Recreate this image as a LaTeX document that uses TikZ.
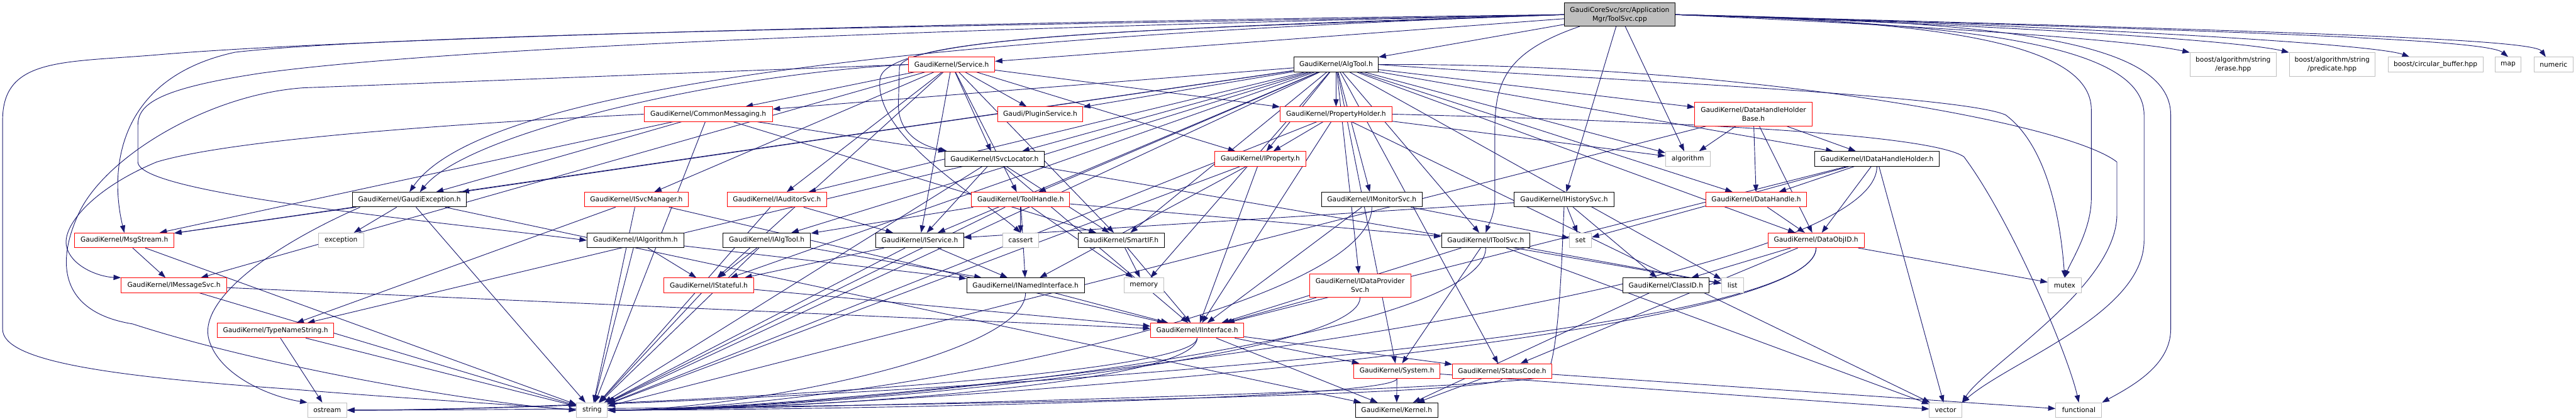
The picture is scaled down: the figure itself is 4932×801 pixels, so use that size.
\documentclass[tikz,border=0pt]{standalone}
\usepackage{fontspec}
\setmainfont{DejaVu Sans}
\usetikzlibrary{arrows.meta}
\definecolor{edgeblue}{HTML}{191970}
\definecolor{topfill}{HTML}{BFBFBF}
\definecolor{lgray}{HTML}{BFBFBF}
\newcommand\gkfont{\fontsize{12.9}{17}\selectfont}
\pgfdeclarelayer{bg}
\pgfsetlayers{bg,main}
\begin{document}
\begin{tikzpicture}[x=1pt,y=-1pt,
  nd/.style={draw, rectangle, fill=white, line width=1.2pt, inner xsep=6pt, inner ysep=0pt, minimum height=28pt, font=\gkfont, align=center},
  rnd/.style={nd, draw=red},
  bnd/.style={nd, draw=black},
  gnd/.style={nd, draw=lgray},
  tall/.style={minimum height=45pt},
  edge/.style={draw=edgeblue, line width=1.1pt, -{Triangle[length=14pt,width=10pt]}}]
\useasboundingbox (0,0) rectangle (4932,801);
% row A
\node[bnd, fill=topfill, tall, minimum height=44pt, minimum width=212pt] (tsvc) at (3101,28) {GaudiCoreSvc/src/Application\\Mgr/ToolSvc.cpp};
% row B
\node[rnd, minimum width=165pt] (service) at (1822,123.5) {GaudiKernel/Service.h};
\node[bnd, minimum width=162pt] (algtool) at (2558,123.5) {GaudiKernel/AlgTool.h};
\node[gnd, tall, minimum width=165pt] (erase) at (4275.5,123.5) {boost/algorithm/string\\/erase.hpp};
\node[gnd, tall, minimum width=164pt] (pred) at (4465,123.5) {boost/algorithm/string\\/predicate.hpp};
\node[gnd, minimum width=182pt] (circ) at (4663,123.5) {boost/circular\_buffer.hpp};
\node[gnd, minimum width=50pt] (map) at (4802,123.5) {map};
\node[gnd, minimum width=74pt] (numeric) at (4889,123.5) {numeric};
% row C
\node[rnd, minimum width=246pt] (commsg) at (1356,218.5) {GaudiKernel/CommonMessaging.h};
\node[rnd, minimum width=163pt] (plugin) at (1991.5,218.5) {Gaudi/PluginService.h};
\node[rnd, minimum width=214pt] (propholder) at (2558,218.5) {GaudiKernel/PropertyHolder.h};
\node[rnd, tall, minimum width=224pt] (dhhb) at (3357,218.5) {GaudiKernel/DataHandleHolder\\Base.h};
% row D
\node[bnd, minimum width=190pt] (svcloc) at (1904,304) {GaudiKernel/ISvcLocator.h};
\node[rnd, minimum width=174pt] (iprop) at (2413,304) {GaudiKernel/IProperty.h};
\node[gnd, minimum width=85pt] (algorithm) at (3231.5,304) {algorithm};
\node[bnd, minimum width=239pt] (idhh) at (3593.5,304) {GaudiKernel/IDataHandleHolder.h};
% row E
\node[bnd, minimum width=218pt] (gexc) at (784,382) {GaudiKernel/GaudiException.h};
\node[rnd, minimum width=199pt] (isvcmgr) at (1218.5,382) {GaudiKernel/ISvcManager.h};
\node[rnd, minimum width=191pt] (iaudit) at (1487.5,382) {GaudiKernel/IAuditorSvc.h};
\node[rnd, minimum width=188pt] (toolhandle) at (1954,382) {GaudiKernel/ToolHandle.h};
\node[bnd, minimum width=193pt] (imon) at (2626.5,382) {GaudiKernel/IMonitorSvc.h};
\node[bnd, minimum width=191pt] (ihist) at (2994.5,382) {GaudiKernel/IHistorySvc.h};
\node[rnd, minimum width=193pt] (dhandle) at (3362.5,382) {GaudiKernel/DataHandle.h};
% row F
\node[rnd, minimum width=190pt] (msgstream) at (238,460) {GaudiKernel/MsgStream.h};
\node[gnd, minimum width=86pt] (exception) at (653,460) {exception};
\node[bnd, minimum width=185pt] (ialg) at (1216.5,460) {GaudiKernel/IAlgorithm.h};
\node[bnd, minimum width=168pt] (ialgtool) at (1468,460) {GaudiKernel/IAlgTool.h};
\node[bnd, minimum width=168pt] (iservice) at (1761,460) {GaudiKernel/IService.h};
\node[gnd, minimum width=68pt] (cassert) at (1954,460) {cassert};
\node[bnd, minimum width=165pt] (smartif) at (2146.5,460) {GaudiKernel/SmartIF.h};
\node[bnd, minimum width=169pt] (itoolsvc) at (2844.5,460) {GaudiKernel/IToolSvc.h};
\node[gnd, minimum width=42pt] (set) at (3026,460) {set};
\node[rnd, minimum width=184pt] (dataobjid) at (3477,460) {GaudiKernel/DataObjID.h};
% row G
\node[rnd, minimum width=202pt] (imsgsvc) at (333,546) {GaudiKernel/IMessageSvc.h};
\node[rnd, minimum width=172pt] (istateful) at (1357,546) {GaudiKernel/IStateful.h};
\node[bnd, minimum width=225pt] (inamed) at (1963.5,546) {GaudiKernel/INamedInterface.h};
\node[gnd, minimum width=76pt] (memory) at (2190,546) {memory};
\node[rnd, tall, minimum width=194pt] (idps) at (2604,546.5) {GaudiKernel/IDataProvider\\Svc.h};
\node[bnd, minimum width=165pt] (classid) at (3189.5,546) {GaudiKernel/ClassID.h};
\node[gnd, minimum width=42pt] (list) at (3317,546) {list};
\node[gnd, minimum width=64pt] (mutex) at (3953,546) {mutex};
% row H
\node[rnd, minimum width=223pt] (typename) at (527.5,632.5) {GaudiKernel/TypeNameString.h};
\node[rnd, minimum width=178pt] (iinterface) at (2292,632.5) {GaudiKernel/IInterface.h};
% row I
\node[rnd, minimum width=165pt] (system) at (2674.5,710) {GaudiKernel/System.h};
\node[rnd, minimum width=190pt] (statuscode) at (2876,710) {GaudiKernel/StatusCode.h};
% row J
\node[gnd, minimum width=75pt] (ostream) at (626.5,785) {ostream};
\node[gnd, minimum width=59pt] (string) at (1133.5,785) {string};
\node[bnd, minimum width=158pt] (kernel) at (2674,785) {GaudiKernel/Kernel.h};
\node[gnd, minimum width=62pt] (vector) at (3725,785) {vector};
\node[gnd, minimum width=88pt] (functional) at (3980,785) {functional};

\begin{pgfonlayer}{bg}
\fill[white] (0,0) rectangle (4932,801);
\foreach \s/\t in {tsvc/service, tsvc/algtool, tsvc/ihist, tsvc/algorithm,
 service/commsg, service/plugin, service/propholder, service/svcloc, service/iprop, service/isvcmgr, service/iaudit, service/toolhandle, service/iservice, service/smartif, service/istateful, service/imsgsvc,
 algtool/commsg, algtool/plugin, algtool/propholder, algtool/dhhb, algtool/svcloc, algtool/iprop, algtool/idhh, algtool/gexc, algtool/iaudit, algtool/toolhandle, algtool/imon, algtool/itoolsvc, algtool/iservice, algtool/ialgtool, algtool/idps, algtool/system, algtool/statuscode, algtool/istateful, algtool/smartif, algtool/list, algtool/dhandle, algtool/algorithm, algtool/dataobjid, algtool/memory, algtool/msgstream, algtool/string,
 commsg/msgstream, commsg/gexc, commsg/svcloc, commsg/smartif, commsg/string,
 propholder/iprop, propholder/algorithm, propholder/string, propholder/iinterface, propholder/vector,
 dhhb/algorithm, dhhb/idhh, dhhb/dhandle, dhhb/dataobjid, dhhb/string,
 svcloc/smartif, svcloc/iinterface, svcloc/string, svcloc/typename, svcloc/iservice, svcloc/list,
 iprop/inamed, iprop/iinterface, iprop/string,
 gexc/exception, gexc/msgstream, gexc/string, gexc/kernel,
 isvcmgr/typename, isvcmgr/string, isvcmgr/iinterface,
 iaudit/iservice, iaudit/string,
 toolhandle/cassert, toolhandle/inamed, toolhandle/ialgtool, toolhandle/itoolsvc, toolhandle/string, toolhandle/memory,
 imon/set, imon/iinterface,
 ihist/set, ihist/classid, ihist/iservice,
 dhandle/dataobjid,
 idhh/dhandle, idhh/dataobjid, idhh/vector, idhh/set, idhh/iinterface,
 msgstream/imsgsvc, msgstream/string,
 ialg/istateful, ialg/string, ialg/inamed,
 ialgtool/istateful, ialgtool/string, ialgtool/inamed,
 iservice/inamed, iservice/string, iservice/istateful,
 smartif/memory, smartif/iinterface,
 itoolsvc/system, itoolsvc/iinterface, itoolsvc/list, itoolsvc/vector,
 dataobjid/classid, dataobjid/mutex, dataobjid/statuscode,
 imsgsvc/iinterface, imsgsvc/string,
 istateful/iinterface, istateful/string,
 inamed/iinterface,
 idps/iinterface,
 classid/kernel,
 typename/ostream, typename/string,
 iinterface/system, iinterface/statuscode, iinterface/kernel,
 system/kernel, system/vector,
 statuscode/kernel, statuscode/functional}
 \draw[edge] (\s) -- (\t);
% connectors that reach string and ostream from the right, along the bottom
\foreach \s/\d/\w in {imon/200/450, idhh/250/500, itoolsvc/180/450, dataobjid/180/500, idps/120/400, iinterface/90/350, system/40/400, inamed/120/250}
 \draw[edge] (\s.south) .. controls +(0,\d) and +(\w,0) .. (string.east);
\foreach \s/\d/\w in {iinterface/80/400, statuscode/40/500, dataobjid/200/600}
 \draw[edge] (\s.south) .. controls +(0,\d) and +(\w,0) .. (ostream.east);
% curved connectors from the top node
\draw[edge] (tsvc.west) .. controls (2200,45) and (800,60) .. (450,100) .. controls (220,150) and (210,330) .. (msgstream.north);
\draw[edge] (tsvc.west) .. controls (2000,40) and (700,70) .. (300,105) .. controls (120,120) and (5,110) .. (5,230) -- (5,630) .. controls (5,690) and (200,720) .. (560,745) .. controls (800,765) and (1000,775) .. (string.west);
\draw[edge] (tsvc.west) .. controls (2000,50) and (900,85) .. (500,140) .. controls (300,170) and (264,200) .. (264,240) -- (264,310) .. controls (264,370) and (800,420) .. (ialg.west);
\draw[edge] (tsvc.west) .. controls (1500,80) and (900,200) .. (gexc.north);
\draw[edge] (tsvc.west) .. controls (2300,50) and (1722,70) .. (1722,130) -- (1720,200) .. controls (1720,260) and (1770,280) .. ([xshift=5pt]svcloc.north west);
\draw[edge] (tsvc.west) .. controls (2300,55) and (1700,60) .. (1685,150) .. controls (1670,260) and (1880,380) .. (cassert.north);
\draw[edge] ([xshift=30pt]tsvc.south west) .. controls (2880,100) and (2862,160) .. (2862,250) -- (2862,380) .. controls (2862,410) and (2850,430) .. (itoolsvc.north);
\draw[edge] (tsvc.east) .. controls (3700,40) and (4004,80) .. (4004,210) -- (4004,380) .. controls (4004,440) and (3965,500) .. (mutex.north);
\draw[edge] (tsvc.east) .. controls (3800,45) and (4105,90) .. (4105,220) -- (4105,460) .. controls (4105,600) and (3850,690) .. (vector.north east);
\draw[edge] (tsvc.east) .. controls (3850,40) and (4156,80) .. (4156,220) -- (4156,630) .. controls (4156,700) and (4080,740) .. (functional.north east);
\draw[edge] (tsvc.east) .. controls (3800,55) and (4100,80) .. (erase.north west);
\draw[edge] (tsvc.east) .. controls (3900,50) and (4300,80) .. (pred.north west);
\draw[edge] (tsvc.east) .. controls (4000,50) and (4550,85) .. ([xshift=-50pt]circ.north);
\draw[edge] (tsvc.east) .. controls (4300,60) and (4760,75) .. (map.north);
\draw[edge] (tsvc.east) .. controls (4400,60) and (4850,75) .. ([xshift=-15pt]numeric.north);
% other routed connectors
\draw[edge] (service.west) .. controls (1400,140) and (900,250) .. ([xshift=20pt]gexc.north);
\draw[edge] (service.west) .. controls (1300,140) and (800,160) .. (582,168) .. controls (400,180) and (200,300) .. (150,410) .. controls (100,520) and (130,600) .. (254,620) .. controls (500,700) and (900,770) .. (string.west);
\draw[edge] (commsg.west) .. controls (900,235) and (450,265) .. (300,310) .. controls (180,360) and (120,430) .. (127,470) .. controls (135,510) and (190,530) .. (imsgsvc.north west);
\draw[edge] (algtool.east) .. controls (3000,150) and (3750,180) .. (3840,220) .. controls (3920,280) and (3945,420) .. (mutex.north);
\draw[edge] (algtool.east) .. controls (3300,120) and (3950,230) .. (4053,310) -- (4053,410) .. controls (4053,550) and (3800,700) .. (vector.north east);
\draw[edge] (propholder.east) .. controls (3300,235) and (3700,260) .. (3760,300) .. controls (3850,420) and (3960,680) .. (functional.north);
\draw[edge] ([xshift=15pt]gexc.south west) .. controls (500,480) and (380,580) .. (400,650) .. controls (420,720) and (520,760) .. (ostream.north west);
\draw[edge] (ihist.south) .. controls (2990,500) and (2985,680) .. (2960,720) .. controls (2900,745) and (1600,780) .. (string.east);
\end{pgfonlayer}
\end{tikzpicture}
\end{document}
